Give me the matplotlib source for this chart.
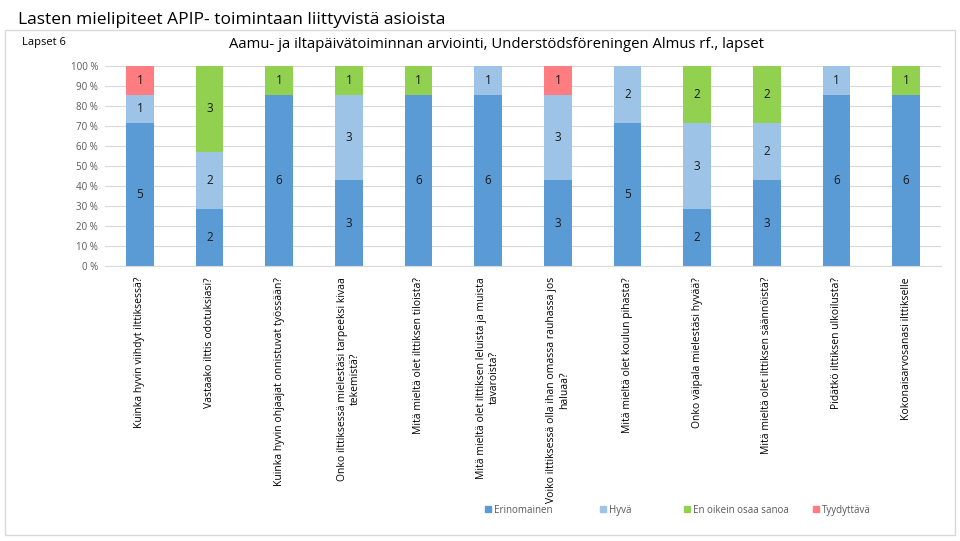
import numpy as np
import matplotlib
matplotlib.use('Agg')
import matplotlib.pyplot as plt
from matplotlib.patches import Rectangle

plt.rcParams['font.family'] = ['Open Sans', 'DejaVu Sans']

questions = [
    'Kuinka hyvin viihdyt ilttiksessä?',
    'Vastaako ilttis odotuksiasi?',
    'Kuinka hyvin ohjaajat onnistuvat työssään?',
    'Onko ilttiksessä mielestäsi tarpeeksi kivaa\ntekemistä?',
    'Mitä mieltä olet ilttiksen tiloista?',
    'Mitä mieltä olet ilttiksen leluista ja muista\ntavaroista?',
    'Voiko ilttiksessä olla ihan omassa rauhassa jos\nhaluaa?',
    'Mitä mieltä olet koulun pihasta?',
    'Onko väipala mielestäsi hyvää?',
    'Mitä mieltä olet ilttiksen säännöistä?',
    'Pidätkö ilttiksen ulkoilusta?',
    'Kokonaisarvosanasi ilttikselle',
]
series = ['Erinomainen', 'Hyvä', 'En oikein osaa sanoa', 'Tyydyttävä']
erinomainen = [5, 2, 6, 3, 6, 6, 3, 5, 2, 3, 6, 6]
hyva = [1, 2, 0, 3, 0, 1, 3, 2, 3, 2, 1, 0]
en_osaa = [0, 3, 1, 1, 1, 0, 0, 0, 2, 2, 0, 1]
tyydyttava = [1, 0, 0, 0, 0, 0, 1, 0, 0, 0, 0, 0]
colors = ['#5B9BD5', '#9DC3E6', '#92D050', '#FF7C80']

counts = np.array([erinomainen, hyva, en_osaa, tyydyttava], dtype=float)
totals = counts.sum(axis=0)
shares = counts / totals * 100

W, H = 960, 541
fig = plt.figure(figsize=(9.6, 5.41), dpi=100)
fig.text(0.019, 0.977, 'Lasten mielipiteet APIP- toimintaan liittyvistä asioista',
         fontsize=12.5, va='top', ha='left', color='#000000')
fig.patches.append(Rectangle((5 / W, 6 / H), 950 / W, 505 / H,
                             transform=fig.transFigure, fill=False,
                             edgecolor='#D9D9D9', linewidth=1))
fig.text(22 / W, 1 - 42 / H, 'Lapset 6', fontsize=8, va='center', ha='left')
fig.text(496 / W, 1 - 45 / H,
         'Aamu- ja iltapäivätoiminnan arviointi, Understödsföreningen Almus rf., lapset',
         fontsize=10.7, va='center', ha='center')

ax = fig.add_axes([105 / W, 1 - 266 / H, 836 / W, 200 / H])
x = np.arange(len(questions))
bottom = np.zeros(len(questions))
for i, name in enumerate(series):
    ax.bar(x, shares[i], 0.4, bottom=bottom, color=colors[i], label=name, zorder=2)
    for j in range(len(questions)):
        if counts[i, j] > 0:
            ax.text(x[j], bottom[j] + shares[i, j] / 2, '%d' % counts[i, j],
                    ha='center', va='center', fontsize=8.5, color='#1a1a1a', zorder=3)
    bottom += shares[i]

ax.set_ylim(0, 100)
ax.set_xlim(-0.5, len(questions) - 0.5)
ax.set_yticks(np.arange(0, 101, 10))
ax.set_yticklabels(['%d %%' % v for v in range(0, 101, 10)], fontsize=7, color='#595959')
ax.yaxis.grid(True, color='#D9D9D9', linewidth=0.8, zorder=0)
ax.set_xticks(x)
ax.set_xticklabels(questions, rotation=90, fontsize=7.5, ha='center', va='top',
                   multialignment='center')
ax.tick_params(axis='y', length=0, pad=5)
ax.tick_params(axis='x', length=0, pad=8)
for s in ['top', 'right', 'left']:
    ax.spines[s].set_visible(False)
ax.spines['bottom'].set_color('#D9D9D9')

# legend drawn by hand so all entries sit on one baseline
legend_x = [485, 600, 684, 813]
ly = 1 - 509 / H
for name, c, lx in zip(series, colors, legend_x):
    fig.patches.append(Rectangle((lx / W, ly - 3 / H), 6 / W, 6 / H,
                                 transform=fig.transFigure, color=c))
    fig.text((lx + 9) / W, ly, name, fontsize=7, color='#595959',
             va='center_baseline', ha='left')

fig.savefig('out.png', dpi=100)
